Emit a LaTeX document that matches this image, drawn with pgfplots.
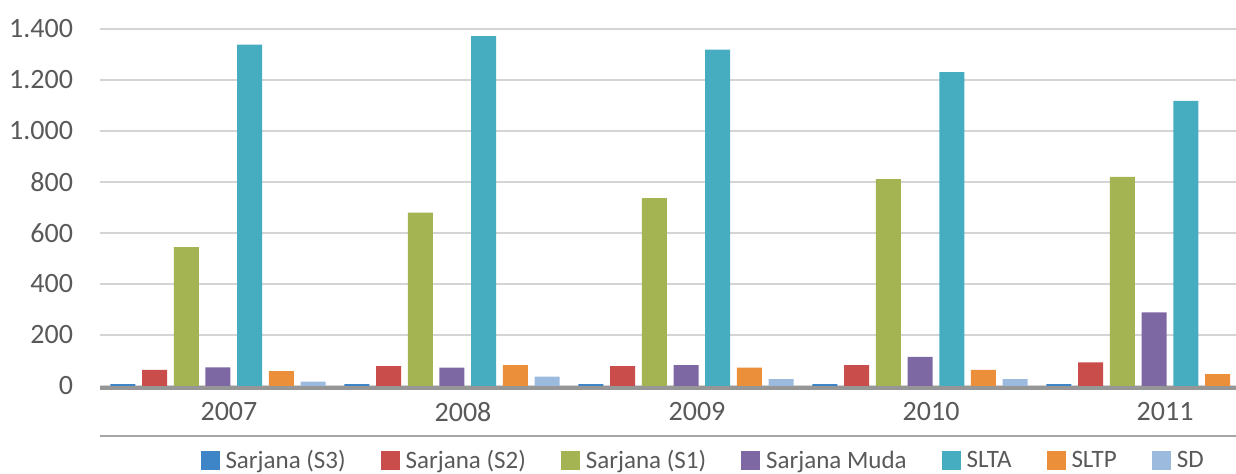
\documentclass[border=0pt]{standalone}
\usepackage{fontspec}
\setmainfont{Carlito}
\usepackage{pgfplots}
\pgfplotsset{compat=1.18}
\definecolor{cS3}{HTML}{3D85C6}
\definecolor{cS2}{HTML}{C84D4B}
\definecolor{cS1}{HTML}{A5B452}
\definecolor{cMuda}{HTML}{7E68A3}
\definecolor{cSLTA}{HTML}{46ADC1}
\definecolor{cSLTP}{HTML}{EB8F3B}
\definecolor{cSD}{HTML}{9CBADE}
\definecolor{cText}{HTML}{595959}
\definecolor{cGrid}{HTML}{D4D4D4}
\definecolor{cAxis}{HTML}{969696}
\definecolor{cSep}{HTML}{A6A6A6}
\begin{document}
\begin{tikzpicture}
\begin{axis}[name=ax, width=568pt, height=178.5pt, scale only axis,
  ybar=3.35pt, bar width=12.5pt,
  xmin=-0.504, xmax=4.35, ymin=0, ymax=1400,
  xtick={0,1,2,3,4}, xticklabels={2007,2008,2009,2010,2011},
  ytick={0,200,400,600,800,1000,1200,1400},
  ymajorgrids, major grid style={draw=cGrid, line width=1pt},
  axis line style={draw=none}, major tick length=0pt, tick style={draw=none},
  scaled y ticks=false,
  /pgf/number format/1000 sep={.},
  /pgf/number format/assume math mode=true,
  ticklabel style={font=\fontsize{14pt}{16pt}\selectfont, text=cText, inner sep=0pt},
  yticklabel style={anchor=east, xshift=-13.3pt},
  xticklabel style={anchor=north, yshift=-7.8pt, xshift=5.5pt},
  legend columns=-1,
  legend image code/.code={\fill[#1] (0pt,-4.75pt) rectangle (9.5pt,4.75pt);},
  legend style={at={(0.53,-0.21)}, anchor=center, draw=none, fill=none,
    font=\fontsize{12.5pt}{15pt}\selectfont, text=cText, inner sep=0pt,
    nodes={inner sep=0pt},
    /tikz/every odd column/.append style={column sep=3pt},
    /tikz/every even column/.append style={column sep=17.5pt}},
  legend cell align=left,
]
\addplot[fill=cS3, draw=none] coordinates {(0,7) (1,7) (2,7) (3,7) (4,7)};
\addlegendentry{Sarjana (S3)}
\addplot[fill=cS2, draw=none] coordinates {(0,63) (1,78) (2,78) (3,82) (4,93)};
\addlegendentry{Sarjana (S2)}
\addplot[fill=cS1, draw=none] coordinates {(0,545) (1,680) (2,737) (3,811) (4,820)};
\addlegendentry{Sarjana (S1)}
\addplot[fill=cMuda, draw=none] coordinates {(0,73) (1,72) (2,82) (3,114) (4,289)};
\addlegendentry{Sarjana Muda}
\addplot[fill=cSLTA, draw=none] coordinates {(0,1339) (1,1372) (2,1319) (3,1231) (4,1118)};
\addlegendentry{SLTA}
\addplot[fill=cSLTP, draw=none] coordinates {(0,58) (1,82) (2,72) (3,63) (4,47)};
\addlegendentry{SLTP}
\addplot[fill=cSD, draw=none] coordinates {(0,17) (1,37) (2,27) (3,27) (4,25)};
\addlegendentry{SD}
\end{axis}
\draw[cAxis, line width=2pt] ([yshift=-1.25pt]ax.south west) -- ([yshift=-1.25pt]ax.south east);
\draw[cSep, line width=1pt] ([yshift=-24.85pt]ax.south west) -- ([yshift=-24.85pt]ax.south east);
\pgfresetboundingbox
\useasboundingbox ([xshift=-50pt,yshift=-44pt]ax.south west) rectangle ([yshift=14.5pt]ax.north east);
\end{tikzpicture}
\end{document}
